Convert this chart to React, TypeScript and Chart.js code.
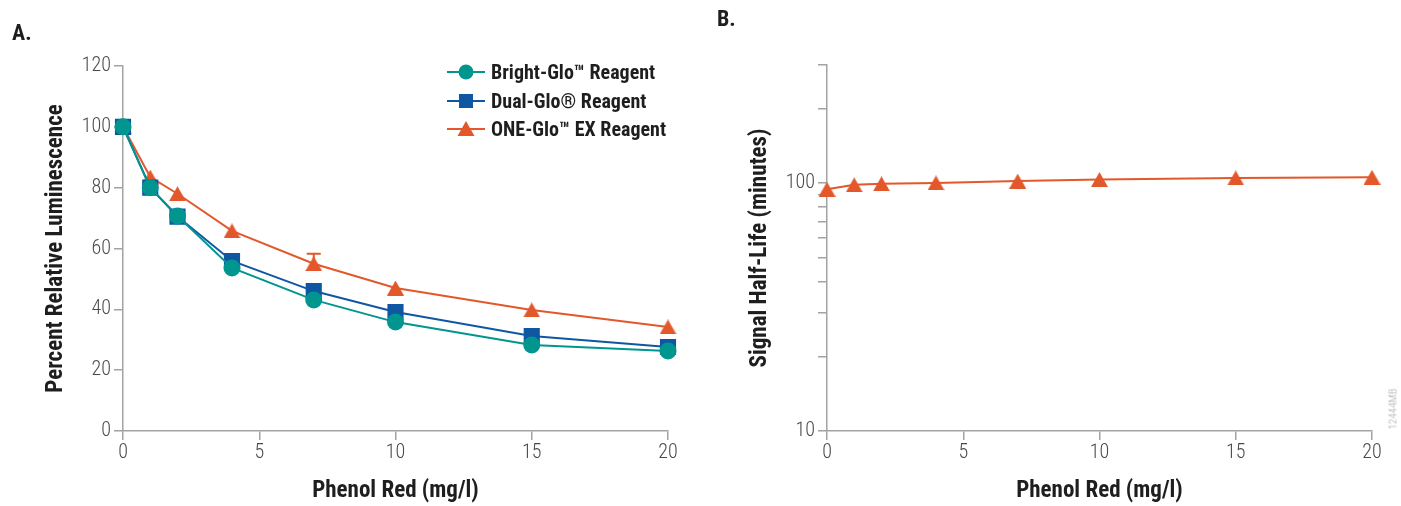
import React, { useEffect, useRef } from 'react';
import { Chart, registerables } from 'chart.js';

Chart.register(...registerables);

// ---------- data ----------
const concentrations = [0, 1, 2, 4, 7, 10, 15, 20];
const brightGlo = [100, 80, 70.7, 53.6, 43.1, 35.8, 28.3, 26.3];
const dualGlo = [100, 80, 70.5, 55.9, 46, 39.1, 31.2, 27.6];
const oneGloEx = [100, 83.5, 78, 65.8, 55, 47, 39.8, 34.2];
const oneGloExError = [0, 0, 0, 0, 3.3, 0, 0, 0];
const halfLife = [94.5, 98.5, 99.4, 100.3, 102, 103.5, 105, 105.7];

const xTickValues = [0, 5, 10, 15, 20];
const yTicksA = [0, 20, 40, 60, 80, 100, 120];
const yTicksB = [10, 20, 30, 40, 50, 60, 70, 80, 90, 100, 200, 300];
const yLabelsB = [10, 100];

const seriesNames = ['Bright-Glo™ Reagent', 'Dual-Glo® Reagent', 'ONE-Glo™ EX Reagent'];

// ---------- styles ----------
const TEAL = '#00968f';
const BLUE = '#0f57a2';
const ORANGE = '#e2582a';
const AXIS = '#a3a3a3';
const TICK_TEXT = '#4a4a4a';
const TITLE_TEXT = '#1e1e1e';
const NARROW = '"Roboto Condensed", "Open Sans", sans-serif';

const toPoints = (ys: number[]) => concentrations.map((x, i) => ({ x, y: ys[i] }));

// triangle marker centred on its bounding box
function makeTriangle(color: string, w: number, h: number) {
  const c = document.createElement('canvas');
  c.width = w;
  c.height = h;
  const ctx = c.getContext('2d')!;
  ctx.fillStyle = color;
  ctx.beginPath();
  ctx.moveTo(w / 2, 0);
  ctx.lineTo(w, h);
  ctx.lineTo(0, h);
  ctx.closePath();
  ctx.fill();
  return c;
}

// upper error whisker (the lower half is hidden behind the marker in the original)
const errorBarPlugin = {
  id: 'errorBars',
  beforeDatasetsDraw(chart: any) {
    const { ctx, scales } = chart;
    chart.data.datasets.forEach((ds: any) => {
      if (!ds.errors) return;
      ctx.save();
      ctx.strokeStyle = ds.borderColor;
      ctx.lineWidth = 2;
      ds.data.forEach((p: any, i: number) => {
        const e = ds.errors[i];
        if (!e) return;
        const px = scales.x.getPixelForValue(p.x);
        const py = scales.y.getPixelForValue(p.y);
        const top = scales.y.getPixelForValue(p.y + e);
        ctx.beginPath();
        ctx.moveTo(px, py);
        ctx.lineTo(px, top);
        ctx.moveTo(px - 7, top);
        ctx.lineTo(px + 7, top);
        ctx.stroke();
      });
      ctx.restore();
    });
  },
};

const axisCommon = {
  grid: {
    display: true,
    drawOnChartArea: false,
    drawTicks: true,
    tickLength: 9,
    color: AXIS,
    lineWidth: 1.5,
  },
  border: { display: true, color: AXIS, width: 1.5 },
};

const tickFont = { family: NARROW, size: 20, weight: '300' as any };
const titleFont = { family: NARROW, size: 23, weight: 'bold' as any };

function xScale() {
  return {
    type: 'linear',
    min: 0,
    max: 20,
    ...axisCommon,
    afterBuildTicks: (s: any) => {
      s.ticks = xTickValues.map((v) => ({ value: v }));
    },
    afterFit: (s: any) => {
      s.height = 75;
    },
    ticks: { font: tickFont, color: TICK_TEXT, padding: 1, maxRotation: 0, autoSkip: false },
    title: {
      display: true,
      text: 'Phenol Red (mg/l)',
      font: titleFont,
      color: TITLE_TEXT,
      padding: { top: 0, bottom: 1 },
    },
  };
}

function LeftChart() {
  const ref = useRef<HTMLCanvasElement>(null);
  useEffect(() => {
    const tri = makeTriangle(ORANGE, 17, 15);
    const chart = new Chart(ref.current!, {
      type: 'line',
      data: {
        datasets: [
          {
            label: seriesNames[0],
            data: toPoints(brightGlo),
            borderColor: TEAL,
            backgroundColor: TEAL,
            pointBackgroundColor: TEAL,
            pointBorderColor: TEAL,
            pointStyle: 'circle',
            pointRadius: 7.5,
            borderWidth: 2,
            clip: false,
          },
          {
            label: seriesNames[1],
            data: toPoints(dualGlo),
            borderColor: BLUE,
            backgroundColor: BLUE,
            pointBackgroundColor: BLUE,
            pointBorderColor: BLUE,
            pointStyle: 'rect',
            pointRadius: 10,
            borderWidth: 2,
            clip: false,
          },
          {
            label: seriesNames[2],
            data: toPoints(oneGloEx),
            errors: oneGloExError,
            borderColor: ORANGE,
            backgroundColor: ORANGE,
            pointBackgroundColor: ORANGE,
            pointBorderColor: ORANGE,
            pointStyle: tri,
            pointRadius: 9,
            borderWidth: 2,
            clip: false,
          } as any,
        ],
      },
      options: {
        responsive: false,
        animation: false,
        layout: { padding: { left: 40, top: 66, right: 32, bottom: 0 } },
        plugins: { legend: { display: false }, tooltip: { enabled: false } },
        scales: {
          x: xScale() as any,
          y: {
            type: 'linear',
            min: 0,
            max: 120,
            ...axisCommon,
            afterBuildTicks: (s: any) => {
              s.ticks = yTicksA.map((v) => ({ value: v }));
            },
            afterFit: (s: any) => {
              s.width = 83;
            },
            ticks: { font: tickFont, color: TICK_TEXT, padding: 3 },
            title: {
              display: true,
              text: 'Percent Relative Luminescence',
              font: titleFont,
              color: TITLE_TEXT,
              padding: { top: 2, bottom: 0 },
            },
          } as any,
        },
      },
      plugins: [errorBarPlugin],
    });
    return () => chart.destroy();
  }, []);
  return (
    <canvas
      ref={ref}
      width={700}
      height={506}
      style={{ position: 'absolute', left: 0, top: 0, width: 700, height: 506 }}
    />
  );
}

function RightChart() {
  const ref = useRef<HTMLCanvasElement>(null);
  useEffect(() => {
    const tri = makeTriangle(ORANGE, 17, 15);
    const chart = new Chart(ref.current!, {
      type: 'line',
      data: {
        datasets: [
          {
            label: seriesNames[2],
            data: toPoints(halfLife),
            borderColor: ORANGE,
            backgroundColor: ORANGE,
            pointBackgroundColor: ORANGE,
            pointBorderColor: ORANGE,
            pointStyle: tri,
            pointRadius: 9,
            borderWidth: 2,
            clip: false,
          } as any,
        ],
      },
      options: {
        responsive: false,
        animation: false,
        layout: { padding: { left: 44, top: 65, right: 29, bottom: 0 } },
        plugins: { legend: { display: false }, tooltip: { enabled: false } },
        scales: {
          x: xScale() as any,
          y: {
            type: 'logarithmic',
            min: 10,
            max: 300,
            ...axisCommon,
            afterBuildTicks: (s: any) => {
              s.ticks = yTicksB.map((v) => ({ value: v }));
            },
            afterFit: (s: any) => {
              s.width = 83;
            },
            ticks: {
              font: tickFont,
              color: TICK_TEXT,
              padding: 3,
              autoSkip: false,
              callback: (v: any) => (yLabelsB.includes(Number(v)) ? String(v) : ''),
            },
            title: {
              display: true,
              text: 'Signal Half-Life (minutes)',
              font: titleFont,
              color: TITLE_TEXT,
              padding: { top: 2, bottom: 0 },
            },
          } as any,
        },
      },
    });
    return () => chart.destroy();
  }, []);
  return (
    <canvas
      ref={ref}
      width={701}
      height={506}
      style={{ position: 'absolute', left: 700, top: 0, width: 701, height: 506 }}
    />
  );
}

function LegendIcon({ color, shape }: { color: string; shape: string }) {
  return (
    <svg width={38} height={20} style={{ display: 'block' }}>
      <line x1={0} y1={10} x2={38} y2={10} stroke={color} strokeWidth={2} />
      {shape === 'circle' && <circle cx={19} cy={10} r={7.5} fill={color} />}
      {shape === 'rect' && <rect x={12} y={3} width={14} height={14} fill={color} />}
      {shape === 'triangle' && <polygon points="19,2 27.5,17 10.5,17" fill={color} />}
    </svg>
  );
}

export default function App() {
  useEffect(() => {
    document.body.style.margin = '0';
  }, []);
  const legendItems = [
    { name: seriesNames[0], color: TEAL, shape: 'circle' },
    { name: seriesNames[1], color: BLUE, shape: 'rect' },
    { name: seriesNames[2], color: ORANGE, shape: 'triangle' },
  ];
  return (
    <div style={{ position: 'relative', width: 1401, height: 506, background: '#fff', overflow: 'hidden' }}>
      <LeftChart />
      <RightChart />
      <div
        style={{
          position: 'absolute',
          left: 12,
          top: 20,
          font: `bold 22px ${NARROW}`,
          color: TITLE_TEXT,
        }}
      >
        A.
      </div>
      <div
        style={{
          position: 'absolute',
          left: 717,
          top: 6,
          font: `bold 22px ${NARROW}`,
          color: TITLE_TEXT,
        }}
      >
        B.
      </div>
      <div style={{ position: 'absolute', left: 447, top: 58 }}>
        {legendItems.map((it) => (
          <div key={it.name} style={{ display: 'flex', alignItems: 'center', height: 28.5 }}>
            <LegendIcon color={it.color} shape={it.shape} />
            <span
              style={{
                marginLeft: 6,
                font: `bold 20px ${NARROW}`,
                color: TITLE_TEXT,
                whiteSpace: 'nowrap',
              }}
            >
              {it.name}
            </span>
          </div>
        ))}
      </div>
      <div
        style={{
          position: 'absolute',
          left: 1393,
          top: 409,
          transform: 'translate(-50%, -50%) rotate(-90deg)',
          font: `300 11px ${NARROW}`,
          color: '#aaaaaa',
          whiteSpace: 'nowrap',
        }}
      >
        12444MB
      </div>
    </div>
  );
}
